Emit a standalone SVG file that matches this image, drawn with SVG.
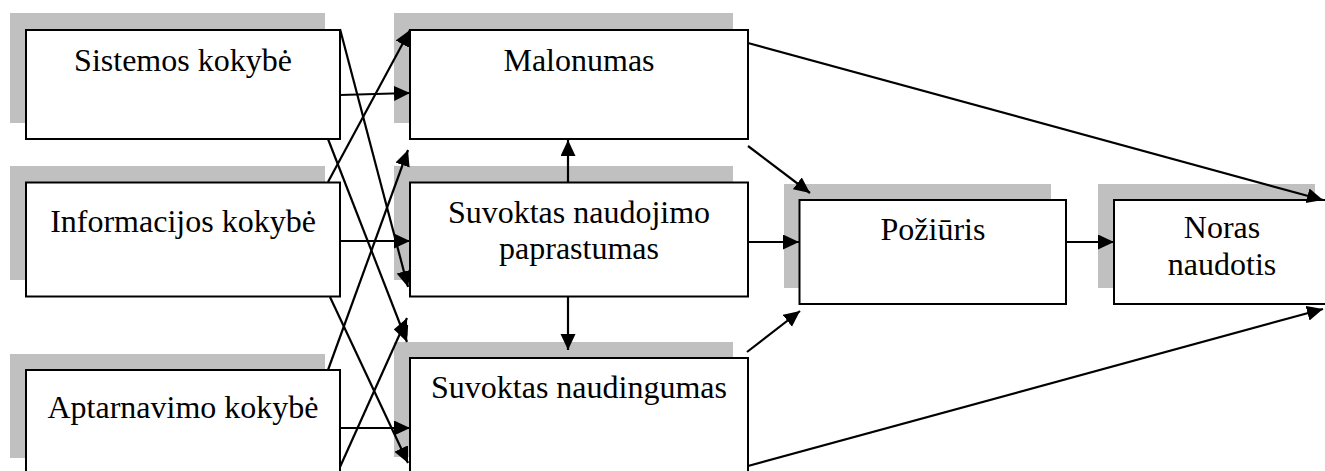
<svg xmlns="http://www.w3.org/2000/svg" width="1325" height="471" viewBox="0 0 1325 471">
<style>
.sh{fill:#c0c0c0;stroke:none}
.bx{fill:#ffffff;stroke:#000000;stroke-width:2}
.t{font-family:"Liberation Serif","Times New Roman",serif;font-size:32px;fill:#000000;text-anchor:middle}
.c{stroke:#000000;stroke-width:2.2;fill:none;marker-end:url(#ah)}
</style>
<defs>
<marker id="ah" markerUnits="userSpaceOnUse" markerWidth="17" markerHeight="16" refX="16" refY="7.5" orient="auto">
<path d="M0,0 L16,7.5 L0,15 z" fill="#000000"/>
</marker>
</defs>
<rect width="1325" height="471" fill="#ffffff"/>
<g id="sistemos">
<rect class="sh" x="10" y="13" width="315" height="110"/>
<rect class="bx" x="26" y="30" width="314" height="109"/>
<text class="t" x="183" y="71">Sistemos kokybė</text>
</g>
<g id="informacijos">
<rect class="sh" x="10" y="166" width="315" height="114"/>
<rect class="bx" x="26" y="182.5" width="314" height="114"/>
<text class="t" x="183" y="231.5">Informacijos kokybė</text>
</g>
<g id="aptarnavimo">
<rect class="sh" x="10" y="354" width="315" height="104"/>
<rect class="bx" x="26" y="370" width="314" height="110"/>
<text class="t" x="183" y="418">Aptarnavimo kokybė</text>
</g>
<g id="malonumas">
<rect class="sh" x="394" y="13" width="339" height="110"/>
<rect class="bx" x="410" y="30" width="338" height="109"/>
<text class="t" x="579" y="70.5">Malonumas</text>
</g>
<g id="snp">
<rect class="sh" x="394" y="166" width="339" height="114"/>
<rect class="bx" x="410" y="182.5" width="338" height="114"/>
<text class="t" x="579" y="222.5">Suvoktas naudojimo</text>
<text class="t" x="579" y="259">paprastumas</text>
</g>
<g id="sn">
<rect class="sh" x="394" y="342" width="339" height="115"/>
<rect class="bx" x="410" y="358" width="338" height="120"/>
<text class="t" x="579" y="398">Suvoktas naudingumas</text>
</g>
<g id="poziuris">
<rect class="sh" x="784" y="184" width="267" height="104"/>
<rect class="bx" x="799.5" y="200" width="266.5" height="104"/>
<text class="t" x="933" y="240">Požiūris</text>
</g>
<g id="noras">
<rect class="sh" x="1098" y="184" width="217" height="104"/>
<rect class="bx" x="1114" y="200" width="217" height="104"/>
<text class="t" x="1222" y="238">Noras</text>
<text class="t" x="1222" y="275">naudotis</text>
</g>
<g id="connectors">
<path class="c" d="M340,95 L410,93"/>
<path class="c" d="M340,29 L408,287"/>
<path class="c" d="M328,139 L407,342"/>
<path class="c" d="M328,182 L410,30"/>
<path class="c" d="M340,241 L410,241"/>
<path class="c" d="M330,297 L408,463"/>
<path class="c" d="M328,370 L408,150"/>
<path class="c" d="M340,467 L407,318"/>
<path class="c" d="M340,428 L410,428"/>
<path class="c" d="M568,183 L568,140"/>
<path class="c" d="M568,297 L568,350"/>
<path class="c" d="M748,146 L810,193"/>
<path class="c" d="M748,242 L799,242"/>
<path class="c" d="M747,352 L800,311"/>
<path class="c" d="M748,43 L1323,200"/>
<path class="c" d="M748,466 L1323,309"/>
<path class="c" d="M1066,242 L1114,242"/>
</g>
</svg>
